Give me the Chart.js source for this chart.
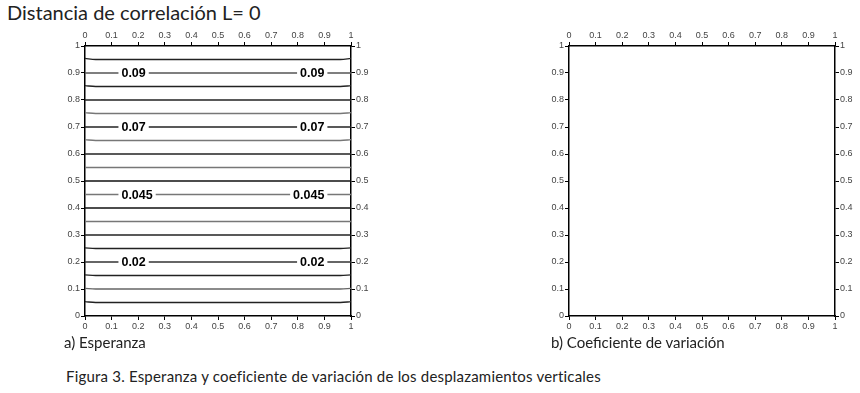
<!DOCTYPE html>
<html>
<head>
<meta charset="utf-8">
<script src="https://cdn.jsdelivr.net/npm/chart.js@4/dist/chart.umd.min.js"></script>
<style>
  body { margin: 0; background: #fff; width: 860px; height: 393px; position: relative; overflow: hidden; }
  .txt { position: absolute; font-family: Lato, "Open Sans", sans-serif; color: #222; white-space: nowrap; }
  canvas { position: absolute; }
</style>
</head>
<body>
<div class="txt" style="left:7px; top:0px; font-size:20px;">Distancia de correlación L= 0</div>
<canvas id="chartA" width="340" height="310" style="left:50px; top:25px;"></canvas>
<canvas id="chartB" width="326" height="310" style="left:534px; top:25px;"></canvas>
<div class="txt" style="left:64px; top:333px; font-size:15px;">a) Esperanza</div>
<div class="txt" style="left:551px; top:333px; font-size:15px;">b) Coeficiente de variación</div>
<div class="txt" style="left:66px; top:367px; font-size:15px; letter-spacing:0.2px;">Figura 3. Esperanza y coeficiente de variación de los desplazamientos verticales</div>
<script>
// contour lines of the expectation field (y position in the middle and at the edges)
const contourY     = [0.05, 0.10, 0.15, 0.20, 0.25, 0.30, 0.35, 0.40, 0.45, 0.50, 0.55, 0.60, 0.65, 0.70, 0.75, 0.80, 0.85, 0.90, 0.95];
const contourEdgeY = [0.053, 0.102, 0.152, 0.20, 0.252, 0.30, 0.35, 0.40, 0.45, 0.50, 0.55, 0.60, 0.653, 0.70, 0.753, 0.80, 0.853, 0.90, 0.954];
const contourColor = ['#222', '#666', '#222', '#333', '#222', '#222', '#777', '#111', '#777', '#111',
                      '#777', '#222', '#777', '#222', '#777', '#222', '#222', '#555', '#222'];
// labelled contours (left labels start at labelXLeft, right labels end at labelXRight)
const labelText   = ['0.09', '0.07', '0.045', '0.02'];
const labelY      = [0.90, 0.70, 0.45, 0.20];
const labelXLeft  = 0.137;
const labelXRight = 0.9;
const tickVals    = [0, 0.1, 0.2, 0.3, 0.4, 0.5, 0.6, 0.7, 0.8, 0.9, 1];

const tickFont = { family: '"Liberation Sans", Arial, sans-serif', size: 9 };

function fmt(v) {
  return String(Number(v.toFixed(1)));
}

function axis(pos, isX, size) {
  return {
    type: 'linear',
    position: pos,
    min: 0,
    max: 1,
    afterBuildTicks: s => { s.ticks = tickVals.map(v => ({ value: v })); },
    afterFit: s => { if (isX) s.height = size; else s.width = size; },
    ticks: { callback: fmt, color: '#444', font: tickFont, padding: 1, maxRotation: 0, autoSkip: false },
    grid: { drawOnChartArea: false, drawTicks: true, tickLength: 4, color: '#000', lineWidth: 1 },
    border: { display: true, color: '#000', width: 1.5 }
  };
}

function scalesFor(rightW) {
  return {
    x:  axis('bottom', true, 19),
    x2: axis('top', true, 21),
    y:  axis('left', false, 35),
    y2: axis('right', false, rightW)
  };
}

const contourLabels = {
  id: 'contourLabels',
  afterDatasetsDraw(chart) {
    const ctx = chart.ctx;
    const xs = chart.scales.x, ys = chart.scales.y;
    ctx.save();
    ctx.font = 'bold 12.5px "Liberation Sans", Arial, sans-serif';
    ctx.textBaseline = 'middle';
    labelText.forEach((t, i) => {
      const py = ys.getPixelForValue(labelY[i]);
      const w = ctx.measureText(t).width;
      const starts = [xs.getPixelForValue(labelXLeft), xs.getPixelForValue(labelXRight) - w];
      starts.forEach(px => {
        ctx.fillStyle = '#fff';
        ctx.fillRect(px - 3, py - 6, w + 6, 12);
        ctx.fillStyle = '#000';
        ctx.fillText(t, px, py + 1);
      });
    });
    ctx.restore();
  }
};

const datasetsA = contourY.map((y, i) => ({
  data: [
    { x: 0, y: contourEdgeY[i] },
    { x: 0.04, y: y },
    { x: 0.5, y: y },
    { x: 0.96, y: y },
    { x: 1, y: contourEdgeY[i] }
  ],
  borderColor: contourColor[i],
  borderWidth: 1.3,
  pointRadius: 0,
  showLine: true,
  cubicInterpolationMode: 'monotone',
  xAxisID: 'x',
  yAxisID: 'y'
}));

const baseOptions = rightW => ({
  responsive: false,
  animation: false,
  devicePixelRatio: 1,
  layout: { padding: 0 },
  plugins: { legend: { display: false }, tooltip: { enabled: false } },
  scales: scalesFor(rightW)
});

new Chart(document.getElementById('chartA'), {
  type: 'scatter',
  data: { datasets: datasetsA },
  options: baseOptions(39),
  plugins: [contourLabels]
});

new Chart(document.getElementById('chartB'), {
  type: 'scatter',
  data: { datasets: [] },
  options: baseOptions(25)
});
</script>
</body>
</html>
